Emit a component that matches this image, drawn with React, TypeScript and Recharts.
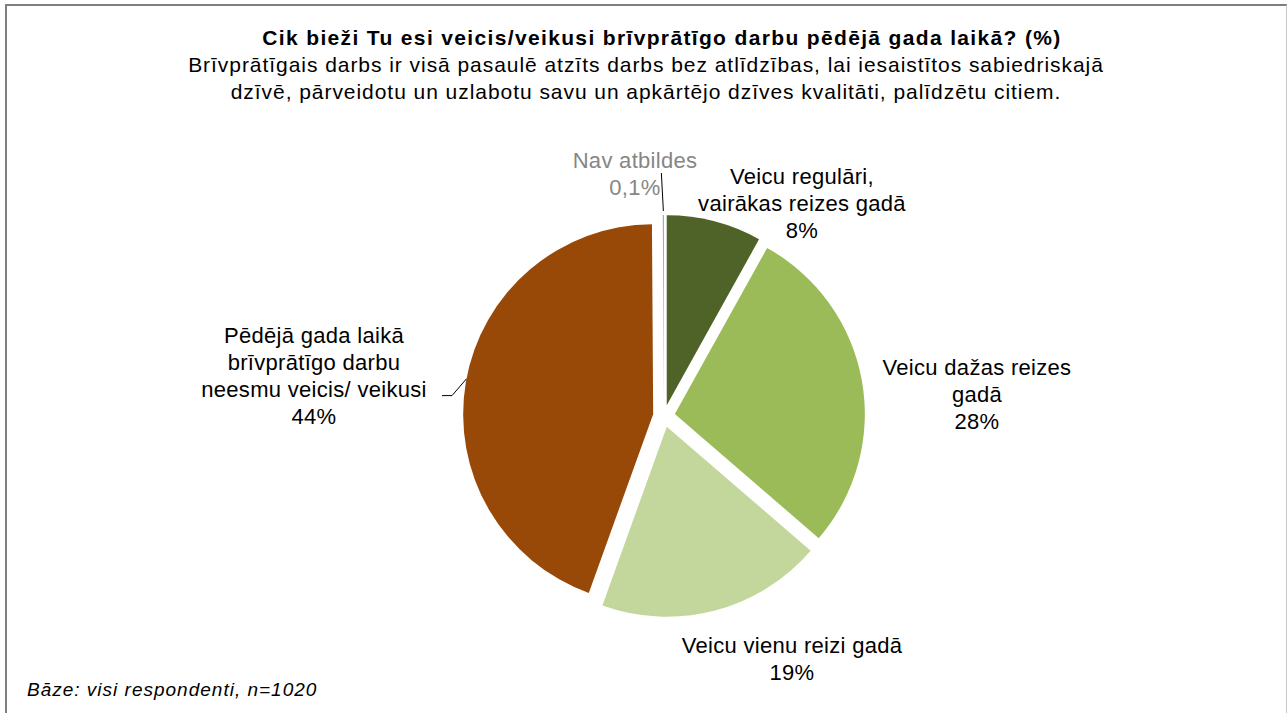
import React from "react";
import { PieChart, Pie, Cell, Sector } from "recharts";

const categories = [
  "Veicu regulāri, vairākas reizes gadā",
  "Veicu dažas reizes gadā",
  "Veicu vienu reizi gadā",
  "Pēdējā gada laikā brīvprātīgo darbu neesmu veicis/ veikusi",
  "Nav atbildes",
];
const values = [8, 28, 19, 44, 0.1];
// label text broken into lines as in the original
const labelLines = [
  ["Veicu regulāri,", "vairākas reizes gadā"],
  ["Veicu dažas reizes", "gadā"],
  ["Veicu vienu reizi gadā"],
  ["Pēdējā gada laikā", "brīvprātīgo darbu", "neesmu veicis/ veikusi"],
  ["Nav atbildes"],
];
const colors = ["#4f6228", "#9bbb59", "#c3d69b", "#984807", "#a6a6a6"];

const data = categories.map((name, i) => ({ name, value: values[i] }));

const W = 1288;
const H = 713;
const CX = 659;
const CY = 411;
const R = 190;
const EXPLODE = 11;
const FONT = "Liberation Sans, Arial, sans-serif";
const LINE_H = 27.3;

// label block offsets from pie centre (x = centre of text, y = first line)
const labelOffsets = [
  [138, -240],
  [313, -49],
  [128, 229],
  [-350, -81],
  [-29, -256],
];

const RAD = Math.PI / 180;
const polar = (cx: number, cy: number, r: number, a: number) => ({
  x: cx + Math.cos(-a * RAD) * r,
  y: cy + Math.sin(-a * RAD) * r,
});

const fmt = (v: number) =>
  v < 1 ? v.toFixed(1).replace(".", ",") + "%" : Math.round(v) + "%";

const ExplodedSector = (props: any) => {
  const { cx, cy, midAngle, innerRadius, outerRadius, startAngle, endAngle, fill } = props;
  const c = polar(cx, cy, EXPLODE, midAngle);
  return (
    <Sector
      cx={c.x}
      cy={c.y}
      innerRadius={innerRadius}
      outerRadius={outerRadius}
      startAngle={startAngle}
      endAngle={endAngle}
      fill={fill}
      stroke="none"
    />
  );
};

const renderLabel = (props: any) => {
  const { cx, cy, midAngle, outerRadius, index, value } = props;
  const [ox, oy] = labelOffsets[index];
  const x = cx + ox;
  const y = cy + oy;
  const lines = [...labelLines[index], fmt(value)];
  const color = index === 4 ? "#868686" : "#000";
  const c = polar(cx, cy, EXPLODE, midAngle);
  let leader = null;
  if (index === 3) {
    const edge = polar(c.x, c.y, outerRadius, midAngle - 1);
    const ly = y + LINE_H * 2 + 6;
    leader = (
      <polyline
        points={`${x + 128},${ly} ${x + 138},${ly} ${edge.x},${edge.y}`}
        fill="none"
        stroke="#000"
        strokeWidth={1}
      />
    );
  } else if (index === 4) {
    const edge = polar(c.x, c.y, outerRadius, midAngle);
    leader = (
      <line x1={edge.x - 2} y1={edge.y - 42} x2={edge.x} y2={edge.y - 4} stroke="#000" strokeWidth={1} />
    );
  }
  return (
    <g key={`lbl-${index}`}>
      {leader}
      <text
        x={x}
        y={y}
        textAnchor="middle"
        fill={color}
        fontFamily={FONT}
        fontSize={22}
        letterSpacing={0.3}
      >
        {lines.map((t, i) => (
          <tspan key={i} x={x} y={y + i * LINE_H} dominantBaseline="central">
            {t}
          </tspan>
        ))}
      </text>
    </g>
  );
};

export default function App() {
  return (
    <div
      style={{
        position: "absolute",
        left: 0,
        top: 0,
        width: W,
        height: H,
        overflow: "hidden",
        background: "#fff",
      }}
    >
      <div
        style={{
          position: "absolute",
          left: 5,
          top: 4,
          width: 1279,
          height: 740,
          borderTop: "2px solid #7f7f7f",
          borderLeft: "2px solid #7f7f7f",
          borderRight: "1px solid #c8c8c8",
        }}
      />
      <div
        style={{
          position: "absolute",
          left: 0,
          top: 24,
          width: 1292,
          textAlign: "center",
          fontFamily: FONT,
          fontSize: 21,
          lineHeight: "27px",
          letterSpacing: 0.95,
          color: "#000",
          whiteSpace: "nowrap",
        }}
      >
        <div style={{ fontWeight: "bold", paddingLeft: 32, letterSpacing: 1.35 }}>
          Cik bieži Tu esi veicis/veikusi brīvprātīgo darbu pēdējā gada laikā? (%)
        </div>
        <div>
          Brīvprātīgais darbs ir visā pasaulē atzīts darbs bez atlīdzības, lai iesaistītos sabiedriskajā
        </div>
        <div>dzīvē, pārveidotu un uzlabotu savu un apkārtējo dzīves kvalitāti, palīdzētu citiem.</div>
      </div>
      <div style={{ position: "absolute", left: 0, top: 0 }}>
        <PieChart width={W} height={H}>
          <Pie
            data={data}
            dataKey="value"
            nameKey="name"
            cx={CX}
            cy={CY}
            innerRadius={0}
            outerRadius={R}
            startAngle={90}
            endAngle={-270}
            stroke="none"
            shape={ExplodedSector}
            label={renderLabel}
            labelLine={false}
            isAnimationActive={false}
          >
            {data.map((d, i) => (
              <Cell key={d.name} fill={colors[i]} />
            ))}
          </Pie>
        </PieChart>
      </div>
      <div
        style={{
          position: "absolute",
          left: 27,
          top: 679,
          fontFamily: FONT,
          fontStyle: "italic",
          fontSize: 19,
          letterSpacing: 1,
          color: "#000",
        }}
      >
        Bāze: visi respondenti, n=1020
      </div>
    </div>
  );
}
